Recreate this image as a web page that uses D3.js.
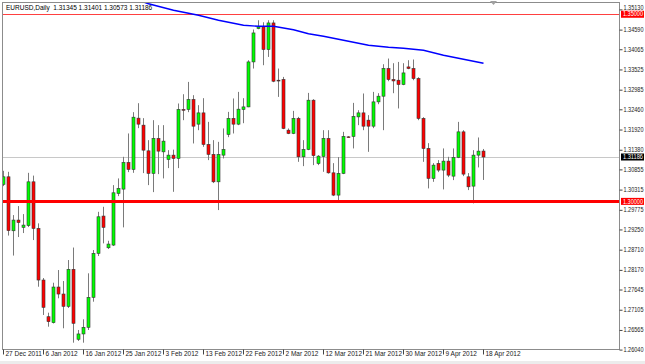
<!DOCTYPE html>
<html>
<head>
<meta charset="utf-8">
<script src="https://cdn.jsdelivr.net/npm/d3@7"></script>
<style>
  body { margin: 0; background: #fff; }
  svg { display: block; font-family: "Liberation Sans", Arial, sans-serif; }
</style>
</head>
<body>
<svg class="chart" width="645" height="364"></svg>
<script>
// daily bars, broker feed has Sunday bars
var dates = ["2011-12-27","2011-12-28","2011-12-29","2011-12-30","2012-01-02","2012-01-03","2012-01-04","2012-01-05","2012-01-06","2012-01-08",
  "2012-01-09","2012-01-10","2012-01-11","2012-01-12","2012-01-13","2012-01-15","2012-01-16","2012-01-17","2012-01-18","2012-01-19",
  "2012-01-20","2012-01-22","2012-01-23","2012-01-24","2012-01-25","2012-01-26","2012-01-27","2012-01-29","2012-01-30","2012-01-31",
  "2012-02-01","2012-02-02","2012-02-03","2012-02-05","2012-02-06","2012-02-07","2012-02-08","2012-02-09","2012-02-10","2012-02-12",
  "2012-02-13","2012-02-14","2012-02-15","2012-02-16","2012-02-17","2012-02-19","2012-02-20","2012-02-21","2012-02-22","2012-02-23",
  "2012-02-24","2012-02-26","2012-02-27","2012-02-28","2012-02-29","2012-03-01","2012-03-02","2012-03-04","2012-03-05","2012-03-06",
  "2012-03-07","2012-03-08","2012-03-09","2012-03-11","2012-03-12","2012-03-13","2012-03-14","2012-03-15","2012-03-16","2012-03-18",
  "2012-03-19","2012-03-20","2012-03-21","2012-03-22","2012-03-23","2012-03-25","2012-03-26","2012-03-27","2012-03-28","2012-03-29",
  "2012-03-30","2012-04-01","2012-04-02","2012-04-03","2012-04-04","2012-04-05","2012-04-06","2012-04-08","2012-04-09","2012-04-10",
  "2012-04-11","2012-04-12","2012-04-13","2012-04-15","2012-04-16","2012-04-17","2012-04-18"];

var open = [1.30454,1.30657,1.29215,1.29501,1.29306,1.29354,1.30523,1.29279,1.27899,1.26919,
  1.26759,1.27712,1.27525,1.27197,1.28185,1.26316,1.26458,1.26636,1.27437,1.28612,
  1.29608,1.28761,1.28833,1.30214,1.30328,1.31041,1.30854,1.32224,1.32037,1.31351,
  1.30748,1.31682,1.31324,1.31121,1.31236,1.31148,1.32456,1.32456,1.32723,1.32064,
  1.32365,1.31522,1.31255,1.30523,1.31236,1.31789,1.32216,1.32064,1.32456,1.32525,
  1.33727,1.34618,1.34661,1.34058,1.34768,1.33238,1.33257,1.31903,1.31815,1.32216,
  1.31191,1.31388,1.32704,1.31014,1.31201,1.31682,1.30763,1.30168,1.30748,1.31725,
  1.31735,1.32258,1.32365,1.32170,1.32010,1.32659,1.32811,1.33550,1.33257,1.33238,
  1.33123,1.33593,1.33550,1.33283,1.32216,1.31415,1.30614,1.31014,1.30836,1.31076,
  1.30675,1.31175,1.31858,1.30657,1.30408,1.31236,1.31345];

var high = [1.30817,1.30790,1.29634,1.29875,1.29661,1.30763,1.30689,1.29413,1.27953,1.27026,
  1.27827,1.28166,1.27872,1.28433,1.28767,1.26564,1.26850,1.28078,1.28700,1.29722,
  1.29856,1.28948,1.30435,1.30614,1.31191,1.31815,1.32384,1.32624,1.32224,1.31636,
  1.32170,1.32037,1.32037,1.31369,1.31383,1.32616,1.32864,1.33193,1.32838,1.32571,
  1.32758,1.32125,1.31636,1.31591,1.31949,1.32392,1.32750,1.32926,1.32758,1.33772,
  1.34592,1.34840,1.34786,1.34840,1.34840,1.33550,1.33326,1.31949,1.32419,1.32258,
  1.31636,1.32899,1.32731,1.31236,1.31903,1.31903,1.31022,1.31183,1.31858,1.31743,
  1.32632,1.32437,1.32883,1.32304,1.32926,1.32891,1.33665,1.33817,1.33692,1.33727,
  1.33692,1.33772,1.33791,1.33318,1.32250,1.31556,1.31022,1.31103,1.31415,1.31191,
  1.31415,1.32125,1.31903,1.30756,1.31369,1.31708,1.31401];

var low = [1.30408,1.29087,1.28553,1.29047,1.29154,1.29314,1.28967,1.27720,1.26965,1.26652,
  1.26738,1.27411,1.26610,1.27152,1.26225,1.26271,1.26225,1.26564,1.27320,1.28540,
  1.28879,1.28727,1.28807,1.30141,1.29306,1.30782,1.30763,1.31957,1.30756,1.30435,
  1.30248,1.30729,1.30614,1.30889,1.30256,1.30889,1.32170,1.32384,1.31548,1.31903,
  1.31458,1.31103,1.30489,1.29768,1.31148,1.31716,1.31815,1.32037,1.32090,1.32517,
  1.33550,1.34600,1.33639,1.33860,1.33185,1.32792,1.31930,1.31797,1.31797,1.31057,
  1.30942,1.31369,1.30969,1.30969,1.30790,1.30742,1.30141,1.30016,1.30729,1.31703,
  1.31415,1.32037,1.31903,1.31324,1.31957,1.32597,1.31903,1.33211,1.32891,1.32483,
  1.33105,1.33532,1.33238,1.32170,1.31057,1.30347,1.30523,1.30782,1.30320,1.30649,
  1.30569,1.31156,1.30675,1.30302,1.29947,1.30908,1.30573];

var close = [1.30657,1.29220,1.29501,1.29434,1.29367,1.30523,1.29279,1.27899,1.27170,1.26786,
  1.27712,1.27525,1.27197,1.28185,1.26743,1.26458,1.26636,1.27437,1.28612,1.29589,
  1.29306,1.28860,1.30230,1.30347,1.31041,1.30854,1.32250,1.32064,1.31369,1.30748,
  1.31682,1.31343,1.31610,1.31236,1.31148,1.32456,1.32443,1.32723,1.32010,1.32365,
  1.31522,1.31255,1.30523,1.31255,1.31388,1.32216,1.32064,1.32464,1.32525,1.33727,
  1.34501,1.34661,1.34058,1.34768,1.33211,1.33225,1.31949,1.31815,1.32216,1.31191,
  1.31388,1.32704,1.31223,1.31209,1.31682,1.30763,1.30168,1.30748,1.31735,1.31716,
  1.32269,1.32365,1.32010,1.32010,1.32659,1.32811,1.33550,1.33257,1.33219,1.33123,
  1.33433,1.33550,1.33283,1.32216,1.31415,1.30614,1.30969,1.30836,1.31076,1.30702,
  1.31175,1.31858,1.30729,1.30390,1.31236,1.31343,1.31186];

// moving average (blue), read at a few bars
var maIndex = [27, 29, 34, 39, 43, 48, 51, 54, 58, 61, 64, 68, 73, 77, 80, 84, 88, 92, 96];
var maValue = [1.35374,1.35280,1.35107,1.34973,1.34840,1.34706,1.34680,1.34680,1.34586,1.34479,
  1.34413,1.34306,1.34172,1.34119,1.34092,1.34039,1.33905,1.33799,1.33692];

var priceTicks = [1.35130,1.34590,1.34065,1.33525,1.32985,1.32460,1.31920,1.31380,1.30855,
  1.30315,1.29775,1.29250,1.28710,1.28170,1.27645,1.27105,1.26565,1.26040];

var dateTicks = ["2011-12-27","2012-01-06","2012-01-16","2012-01-25","2012-02-03","2012-02-13",
  "2012-02-22","2012-03-02","2012-03-12","2012-03-21","2012-03-30","2012-04-09","2012-04-18"];

var levelThin = 1.35000, levelThick = 1.30000, lastPrice = 1.31186;
var title = "EURUSD,Daily  1.31345 1.31401 1.30573 1.31186";

var frame = {left: 2, right: 619, top: 2, bottom: 349};
var labelW = 20;

var svg = d3.select(".chart");

var x = d3.scaleBand()
    .domain(dates)
    .range([1, 1 + dates.length * 5])
    .padding(0);

var y = d3.scaleLinear()
    .domain([1.26040, 1.35130])
    .range([349.6, 9.4]);

function cx(d) { return x(d) + x.bandwidth() / 2; }

var parse = d3.timeParse("%Y-%m-%d");
var fmt = d3.timeFormat("%-d %b %Y");

svg.append("defs").append("clipPath")
    .attr("id", "plot")
  .append("rect")
    .attr("x", frame.left + 1)
    .attr("y", frame.top + 1)
    .attr("width", frame.right - frame.left - 1)
    .attr("height", frame.bottom - frame.top - 1);

// frame
svg.append("rect")
    .attr("x", frame.left + 0.5)
    .attr("y", frame.top + 0.5)
    .attr("width", frame.right - frame.left)
    .attr("height", frame.bottom - frame.top)
    .attr("fill", "none")
    .attr("stroke", "#8c8c8c");

svg.append("rect")
    .attr("x", 0).attr("y", 361)
    .attr("width", 645).attr("height", 3)
    .attr("fill", "#ececec");

var plot = svg.append("g").attr("clip-path", "url(#plot)");

// horizontal levels
plot.append("line")
    .attr("x1", frame.left).attr("x2", frame.right)
    .attr("y1", Math.round(y(lastPrice)) + 0.5).attr("y2", Math.round(y(lastPrice)) + 0.5)
    .attr("stroke", "#c8c8c8");

plot.append("line")
    .attr("x1", frame.left).attr("x2", frame.right)
    .attr("y1", Math.round(y(levelThin)) + 0.5).attr("y2", Math.round(y(levelThin)) + 0.5)
    .attr("stroke", "#ff4040");

var bars = dates.map(function(d, i) {
  return {date: d, o: open[i], h: high[i], l: low[i], c: close[i]};
});

var candle = plot.selectAll(".candle")
    .data(bars)
  .enter().append("g")
    .attr("class", "candle");

candle.append("line")
    .attr("x1", function(d) { return cx(d.date); })
    .attr("x2", function(d) { return cx(d.date); })
    .attr("y1", function(d) { return y(d.h); })
    .attr("y2", function(d) { return y(d.l); })
    .attr("stroke", "#7a7a7a");

candle.append("rect")
    .attr("x", function(d) { return cx(d.date) - 1.5; })
    .attr("width", 3)
    .attr("y", function(d) { return y(Math.max(d.o, d.c)); })
    .attr("height", function(d) { return Math.max(0.8, Math.abs(y(d.o) - y(d.c))); })
    .attr("fill", function(d) { return d.c >= d.o ? "#00ff00" : "#ff0000"; })
    .attr("stroke", "#333")
    .attr("stroke-width", 0.6);

plot.append("line")
    .attr("x1", frame.left).attr("x2", frame.right)
    .attr("y1", y(levelThick)).attr("y2", y(levelThick))
    .attr("stroke", "#ff0000")
    .attr("stroke-width", 3);

var ma = d3.line()
    .x(function(d) { return cx(dates[d]); })
    .y(function(d, i) { return y(maValue[i]); });

plot.append("path")
    .datum(maIndex)
    .attr("d", ma)
    .attr("fill", "none")
    .attr("stroke", "#0000ff")
    .attr("stroke-width", 1.4);

// price axis
var yAxis = d3.axisRight(y)
    .tickValues(priceTicks)
    .tickFormat(d3.format(".5f"))
    .tickSize(3)
    .tickPadding(1);

var ya = svg.append("g")
    .attr("transform", "translate(" + (frame.right + 0.5) + ",0)")
    .call(yAxis);
ya.select(".domain").attr("stroke", "#8c8c8c").attr("d", "M0," + frame.top + "V" + frame.bottom);
ya.selectAll(".tick line").attr("stroke", "#444");
ya.selectAll(".tick text")
    .attr("fill", "#222")
    .attr("textLength", labelW)
    .attr("lengthAdjust", "spacingAndGlyphs")
    .style("font-size", "6.3px");
// the top label sits flush with the window edge, like the terminal does
ya.selectAll(".tick text")
    .filter(function(d) { return y(d) < 12; })
    .attr("dy", "0.0em");

// level tags on the price axis
[{v: levelThin, bg: "#ff0000"}, {v: levelThick, bg: "#ff0000"}, {v: lastPrice, bg: "#000"}]
  .forEach(function(t) {
    var ty = y(t.v);
    svg.append("rect")
        .attr("x", frame.right + 2).attr("y", ty - 3.5)
        .attr("width", labelW + 3).attr("height", 7)
        .attr("fill", t.bg);
    svg.append("text")
        .attr("x", frame.right + 4).attr("y", ty)
        .attr("dy", "0.35em")
        .attr("fill", "#fff")
        .attr("textLength", labelW)
        .attr("lengthAdjust", "spacingAndGlyphs")
        .style("font-size", "6.3px")
        .text(d3.format(".5f")(t.v));
  });

// date axis
var xAxis = d3.axisBottom(x)
    .tickValues(dateTicks)
    .tickFormat(function(d) { return fmt(parse(d)); })
    .tickSize(5)
    .tickPadding(0);

var xa = svg.append("g")
    .attr("transform", "translate(0," + (frame.bottom + 0.5) + ")")
    .call(xAxis);
xa.select(".domain").remove();
xa.selectAll(".tick line").attr("stroke", "#444");
xa.selectAll(".tick text")
    .attr("text-anchor", "start")
    .attr("x", 2)
    .attr("y", 2)
    .attr("fill", "#222")
    .style("font-size", "6.5px");

// chart-shift marker and title
svg.append("path")
    .attr("d", "M490,1L497,1L493.5,5Z")
    .attr("fill", "#a0a0a0");

svg.append("text")
    .attr("x", 6).attr("y", 9.5)
    .style("font-size", "6.5px")
    .style("white-space", "pre")
    .attr("fill", "#000")
    .text(title);
</script>
</body>
</html>
